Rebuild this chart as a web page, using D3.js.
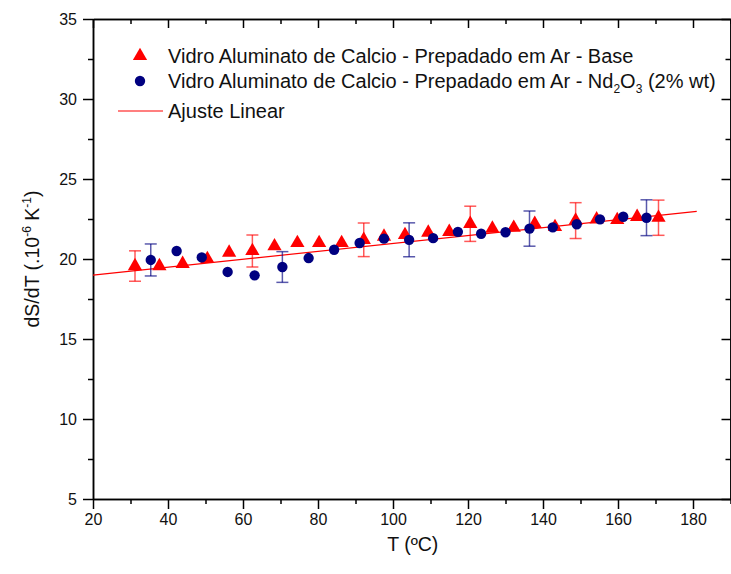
<!DOCTYPE html>
<html>
<head>
<meta charset="utf-8">
<script src="https://cdn.jsdelivr.net/npm/d3@7"></script>
<style>
  html, body { margin: 0; padding: 0; background: #fff; }
  svg { display: block; font-family: "Liberation Sans", Arial, sans-serif; }
</style>
</head>
<body>
<svg id="chart" width="731" height="574"></svg>
<script>
// Base glass (triangles): temperature (ºC), dS/dT, error (null = no bar)
const tempBase = [31.2, 37.7, 43.9, 50.5, 56.3, 62.5, 68.4, 74.5, 80.3, 86.3, 92.2, 97.6, 103.2,
                  109.4, 115.0, 120.6, 126.5, 132.2, 137.8, 143.2, 148.7, 154.3, 159.8, 165.1, 170.8];
const dsBase   = [19.56, 19.56, 19.7, 20.0, 20.4, 20.5, 20.8, 21.0, 21.0, 21.0, 21.2, 21.4, 21.5,
                  21.65, 21.7, 22.2, 21.9, 21.96, 22.2, 22.0, 22.4, 22.48, 22.44, 22.64, 22.58];
const errBase  = [0.95, null, null, null, null, 1.0, null, null, null, null, 1.05, null, null,
                  null, null, 1.1, null, null, null, null, 1.12, null, null, null, 1.1];

// Nd2O3-doped glass (circles)
const tempNd = [35.4, 42.3, 49.0, 55.9, 63.1, 70.5, 77.5, 84.3, 91.1, 97.6, 104.3, 110.7,
                117.3, 123.5, 130.0, 136.4, 142.6, 149.0, 155.2, 161.4, 167.6];
const dsNd   = [19.94, 20.5, 20.1, 19.19, 18.98, 19.5, 20.06, 20.58, 21.0, 21.27, 21.2, 21.3,
                21.7, 21.58, 21.67, 21.9, 21.98, 22.17, 22.48, 22.64, 22.58];
const errNd  = [1.0, null, null, null, null, 0.96, null, null, null, null, 1.06, null,
                null, null, null, 1.1, null, null, null, null, 1.12];

// Linear fit
const fitIntercept = 18.50;
const fitSlope = 0.0247;
const fitRange = [20, 181];

// Axis ticks
const xTicks = [20, 40, 60, 80, 100, 120, 140, 160, 180];
const xMinor = [30, 50, 70, 90, 110, 130, 150, 170, 190];
const yTicks = [5, 10, 15, 20, 25, 30, 35];
const yMinor = [7.5, 12.5, 17.5, 22.5, 27.5, 32.5];

const legendLabels = [
  "Vidro Aluminato de Calcio - Prepadado em Ar - Base",
  "Vidro Aluminato de Calcio - Prepadado em Ar - ",
  "Ajuste Linear"
];

const RED = "#ff0000", NAVY = "#000080";
const svg = d3.select("#chart");

const x = d3.scaleLinear().domain([20, 190]).range([93, 730.5]);
const y = d3.scaleLinear().domain([5, 35]).range([499, 19]);

// ---- axes ----
function styleAxis(g) {
  g.select(".domain").attr("stroke", "#000").attr("stroke-width", 1.5);
  g.selectAll(".tick line").attr("stroke", "#000").attr("stroke-width", 1.5);
  g.selectAll(".tick text").attr("font-size", 16).attr("fill", "#111")
    .attr("font-family", "'Liberation Sans', Arial, sans-serif");
}

svg.append("g").attr("transform", `translate(0,${y(5)})`)
  .call(d3.axisBottom(x).tickValues(xMinor).tickSize(5).tickFormat("").tickSizeOuter(0))
  .call(styleAxis);
svg.append("g").attr("transform", `translate(0,${y(5)})`)
  .call(d3.axisBottom(x).tickValues(xTicks).tickSize(10).tickPadding(5).tickSizeOuter(0))
  .call(styleAxis);

svg.append("g").attr("transform", `translate(${x(20)},0)`)
  .call(d3.axisLeft(y).tickValues(yMinor).tickSize(5).tickFormat("").tickSizeOuter(0))
  .call(styleAxis);
svg.append("g").attr("transform", `translate(${x(20)},0)`)
  .call(d3.axisLeft(y).tickValues(yTicks).tickSize(10).tickPadding(6).tickSizeOuter(0))
  .call(styleAxis);

// mirrored frame with inward ticks
svg.append("g").attr("transform", `translate(0,${y(35)})`)
  .call(d3.axisBottom(x).tickValues(xTicks).tickSize(9).tickFormat("").tickSizeOuter(0))
  .call(styleAxis);
svg.append("g").attr("transform", `translate(0,${y(35)})`)
  .call(d3.axisBottom(x).tickValues(xMinor).tickSize(5).tickFormat("").tickSizeOuter(0))
  .call(styleAxis);
svg.append("g").attr("transform", `translate(${x(190)},0)`)
  .call(d3.axisLeft(y).tickValues(yTicks).tickSize(9).tickFormat("").tickSizeOuter(0))
  .call(styleAxis);
svg.append("g").attr("transform", `translate(${x(190)},0)`)
  .call(d3.axisLeft(y).tickValues(yMinor).tickSize(5).tickFormat("").tickSizeOuter(0))
  .call(styleAxis);

// ---- axis titles ----
svg.append("text")
  .attr("x", (x(20) + x(190)) / 2 + 1).attr("y", 551)
  .attr("text-anchor", "middle").attr("font-size", 19.5).attr("fill", "#111")
  .text("T (ºC)");

const yt = svg.append("text")
  .attr("transform", `translate(39,${y(20)}) rotate(-90)`)
  .attr("text-anchor", "middle").attr("font-size", 19.5).attr("fill", "#111");
yt.append("tspan").text("dS/dT (.10");
yt.append("tspan").attr("dy", -8).attr("font-size", 12).text("-6");
yt.append("tspan").attr("dy", 8).text(" K");
yt.append("tspan").attr("dy", -8).attr("font-size", 12).text("-1");
yt.append("tspan").attr("dy", 8).text(")");

// ---- fit line ----
const fitLine = d3.line().x(d => x(d)).y(d => y(fitIntercept + fitSlope * d));
svg.append("path").datum(fitRange)
  .attr("d", fitLine).attr("fill", "none").attr("stroke", RED).attr("stroke-width", 1.2);

// ---- error bars ----
function errorBars(temps, vals, errs, color) {
  const rows = temps.map((t, i) => ({ t, v: vals[i], e: errs[i] })).filter(d => d.e != null);
  const g = svg.append("g").attr("stroke", color).attr("stroke-width", 1.5).attr("stroke-opacity", 0.65);
  rows.forEach(d => {
    const cx = x(d.t), y0 = y(d.v - d.e), y1 = y(d.v + d.e);
    g.append("line").attr("x1", cx).attr("x2", cx).attr("y1", y0).attr("y2", y1);
    g.append("line").attr("x1", cx - 6).attr("x2", cx + 6).attr("y1", y0).attr("y2", y0);
    g.append("line").attr("x1", cx - 6).attr("x2", cx + 6).attr("y1", y1).attr("y2", y1);
  });
}
errorBars(tempBase, dsBase, errBase, RED);
errorBars(tempNd, dsNd, errNd, NAVY);

// ---- markers ----
const tri = d3.symbol().type(d3.symbolTriangle).size(88);
const circ = d3.symbol().type(d3.symbolCircle).size(84);

svg.append("g").selectAll("path").data(tempBase).join("path")
  .attr("d", tri).attr("fill", RED)
  .attr("transform", (t, i) => `translate(${x(t)},${y(dsBase[i])})`);

svg.append("g").selectAll("path").data(tempNd).join("path")
  .attr("d", circ).attr("fill", NAVY)
  .attr("transform", (t, i) => `translate(${x(t)},${y(dsNd[i])})`);

// ---- legend ----
const lg = svg.append("g").attr("font-size", 20).attr("fill", "#111");
lg.append("path").attr("d", tri).attr("fill", RED).attr("transform", "translate(140,56)");
lg.append("text").attr("x", 168).attr("y", 63).text(legendLabels[0]);

lg.append("path").attr("d", circ).attr("fill", NAVY).attr("transform", "translate(140,81)");
const t2 = lg.append("text").attr("x", 168).attr("y", 88);
t2.append("tspan").text(legendLabels[1] + "Nd");
t2.append("tspan").attr("dy", 5).attr("font-size", 12).text("2");
t2.append("tspan").attr("dy", -5).text("O");
t2.append("tspan").attr("dy", 5).attr("font-size", 12).text("3");
t2.append("tspan").attr("dy", -5).text(" (2% wt)");

lg.append("line").attr("x1", 118).attr("x2", 163).attr("y1", 111).attr("y2", 111)
  .attr("stroke", RED).attr("stroke-width", 1.2);
lg.append("text").attr("x", 168).attr("y", 118).text(legendLabels[2]);
</script>
</body>
</html>
